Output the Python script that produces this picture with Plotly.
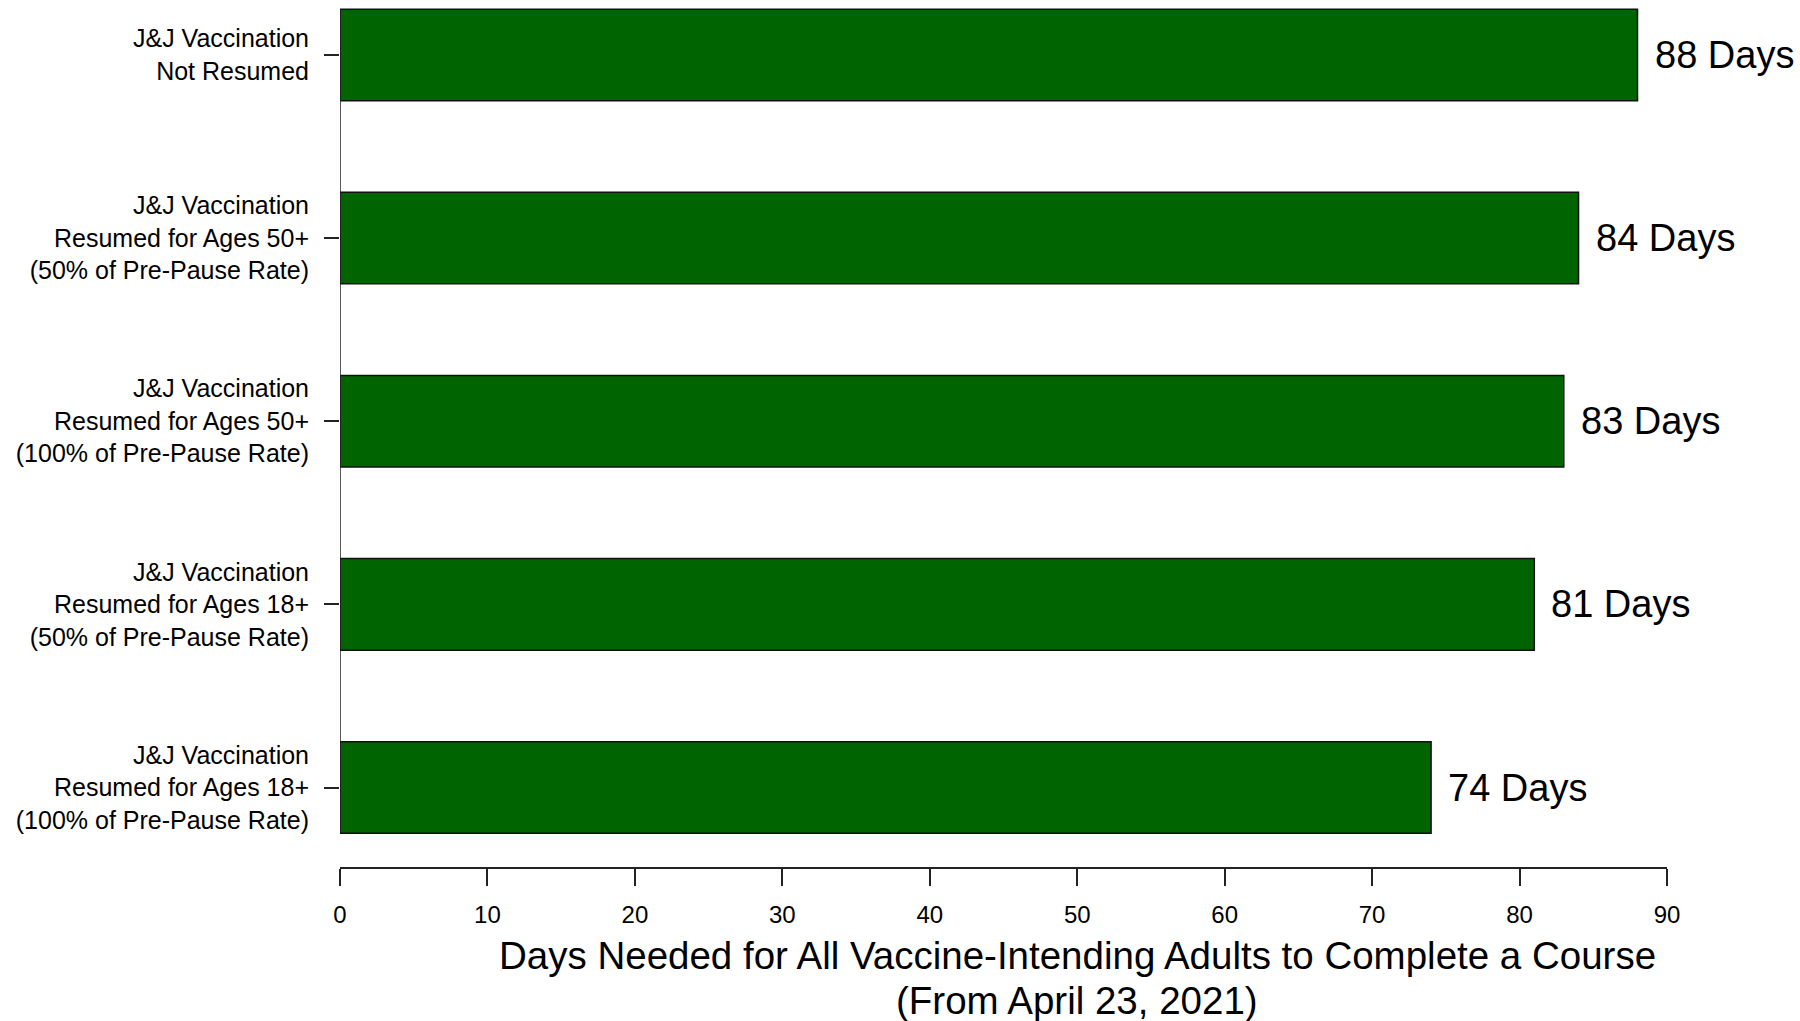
import plotly.graph_objects as go

# Data (top to bottom as in the chart)
scenarios = [
    "J&J Vaccination<br>Not Resumed",
    "J&J Vaccination<br>Resumed for Ages 50+<br>(50% of Pre-Pause Rate)",
    "J&J Vaccination<br>Resumed for Ages 50+<br>(100% of Pre-Pause Rate)",
    "J&J Vaccination<br>Resumed for Ages 18+<br>(50% of Pre-Pause Rate)",
    "J&J Vaccination<br>Resumed for Ages 18+<br>(100% of Pre-Pause Rate)",
]
days = [88, 84, 83, 81, 74]
x_ticks = [0, 10, 20, 30, 40, 50, 60, 70, 80, 90]
x_title_lines = [
    "Days Needed for All Vaccine-Intending Adults to Complete a Course",
    "(From April 23, 2021)",
]

FONT = "Arial, Liberation Sans, sans-serif"
GREEN = "#006400"

fig = go.Figure()
fig.add_trace(go.Bar(
    x=days,
    y=scenarios,
    orientation="h",
    width=0.5,
    marker=dict(color=GREEN, line=dict(color="#111111", width=1.5)),
    hoverinfo="skip",
    showlegend=False,
))

annotations = []
for s, d in zip(scenarios, days):
    annotations.append(dict(
        x=d, y=s, xref="x", yref="y",
        text=f"{d} Days", showarrow=False,
        xanchor="left", yanchor="middle", xshift=15,
        font=dict(family=FONT, size=38, color="#000000"),
    ))

for i, line in enumerate(x_title_lines):
    annotations.append(dict(
        x=50, xref="x", y=0, yref="paper", yshift=-88 - 45 * i,
        text=line,
        showarrow=False, xanchor="center", yanchor="middle",
        font=dict(family=FONT, size=38.5, color="#000000"),
    ))

# left vertical axis line spanning the bars
fig.add_shape(type="line", xref="x", yref="y",
              x0=0, x1=0, y0=-0.25, y1=len(scenarios) - 0.75,
              line=dict(color="#222222", width=1.5))

fig.update_layout(
    width=1800, height=1021,
    margin=dict(l=340, r=133, t=0, b=154),
    paper_bgcolor="white", plot_bgcolor="white",
    annotations=annotations,
    bargap=0.5,
)
fig.update_xaxes(
    range=[0, 90], tickvals=x_ticks,
    showgrid=False, zeroline=False,
    showline=True, linecolor="#222222", linewidth=1.5,
    ticks="outside", ticklen=17, tickwidth=1.5, tickcolor="#222222",
    tickfont=dict(family=FONT, size=24, color="#000000"),
    ticklabelstandoff=8,
)
fig.update_yaxes(
    range=[len(scenarios) - 0.566, -0.3],
    showgrid=False, zeroline=False, showline=False,
    ticks="outside", ticklen=15, tickwidth=1.5, tickcolor="#222222",
    tickfont=dict(family=FONT, size=25, color="#000000"),
    ticklabelstandoff=10,
)

fig.write_html(
    "out.html",
    config={"displayModeBar": False},
    post_script="document.body.style.margin='0';document.body.style.overflow='hidden';",
)
